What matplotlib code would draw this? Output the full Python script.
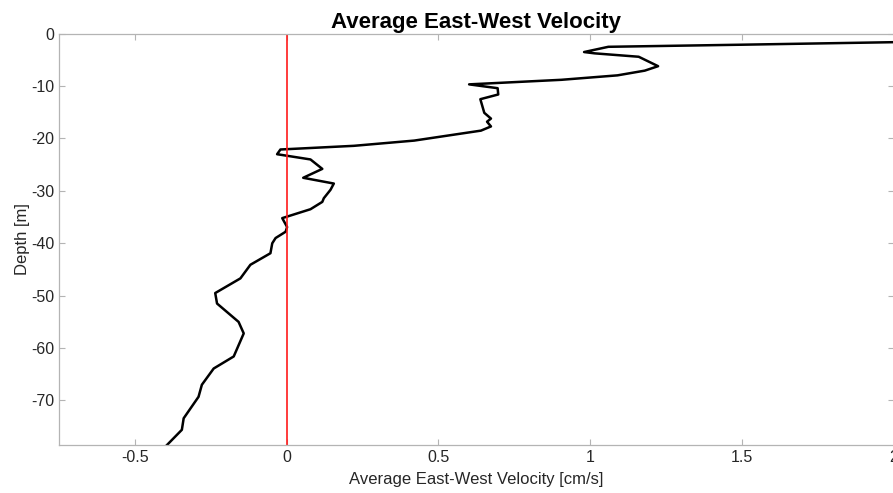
import numpy as np
import matplotlib
matplotlib.use("Agg")
import matplotlib.pyplot as plt

# velocity profile (cm/s vs depth in m)
velocity = [2.02, 1.50, 1.06, 0.98, 1.015, 1.16, 1.224, 1.18, 1.09, 0.905,
            0.601, 0.695, 0.697, 0.638, 0.651, 0.673, 0.660, 0.673, 0.640,
            0.420, 0.221, -0.021, -0.032, 0.001, 0.078, 0.117, 0.054, 0.155,
            0.144, 0.122, 0.117, 0.078, -0.015, 0.001, -0.004, -0.037,
            -0.048, -0.054, -0.120, -0.153, -0.236, -0.230, -0.159, -0.142,
            -0.175, -0.241, -0.280, -0.291, -0.340, -0.346, -0.395]
depth = [-1.6, -2.1, -2.5, -3.5, -3.75, -4.4, -6.2, -7.05, -7.95, -8.8,
         -9.67, -10.4, -11.6, -12.5, -15.1, -16.2, -16.8, -17.7, -18.5,
         -20.4, -21.4, -22.1, -23.0, -23.3, -24.0, -25.8, -27.5, -28.6,
         -29.8, -31.4, -32.1, -33.5, -35.2, -36.9, -37.8, -39.0,
         -40.0, -41.9, -44.1, -46.7, -49.5, -51.5, -55.0, -57.2,
         -61.6, -63.9, -67.0, -69.3, -73.4, -75.6, -78.5]
xticks = [-0.5, 0, 0.5, 1, 1.5, 2]
yticks = [0, -10, -20, -30, -40, -50, -60, -70]

plt.rcParams["font.family"] = ["Liberation Sans", "DejaVu Sans"]
plt.rcParams["axes.unicode_minus"] = False
GRAY, TXT = "#b4b4b4", "#262626"

fig = plt.figure(figsize=(8.93, 4.93), dpi=100)
ax = fig.add_axes([59.3 / 893, 1 - 445 / 493, (893.5 - 59.3) / 893, (445 - 33.7) / 493])
ax.plot(velocity, depth, color="black", lw=1.8, solid_joinstyle="round")
ax.axvline(0, color="#ff1a1a", lw=1.2)
ax.set_xlim(-0.75, 2); ax.set_ylim(-78.5, 0)
ax.set_xticks(xticks); ax.set_xticklabels([f"{t:g}" for t in xticks])
ax.set_yticks(yticks)
ax.tick_params(direction="in", length=4, color=GRAY, labelcolor=TXT, labelsize=11.5,
               top=True, right=True, width=0.8)
for s in ax.spines.values():
    s.set_color(GRAY); s.set_linewidth(0.9)
ax.set_xlabel("Average East-West Velocity [cm/s]", fontsize=12, color=TXT, labelpad=5)
ax.set_ylabel("Depth [m]", fontsize=12, color=TXT, labelpad=1)
ax.set_title("Average East-West Velocity", fontsize=16, weight="bold", pad=4)
fig.savefig("out.png", dpi=100)
